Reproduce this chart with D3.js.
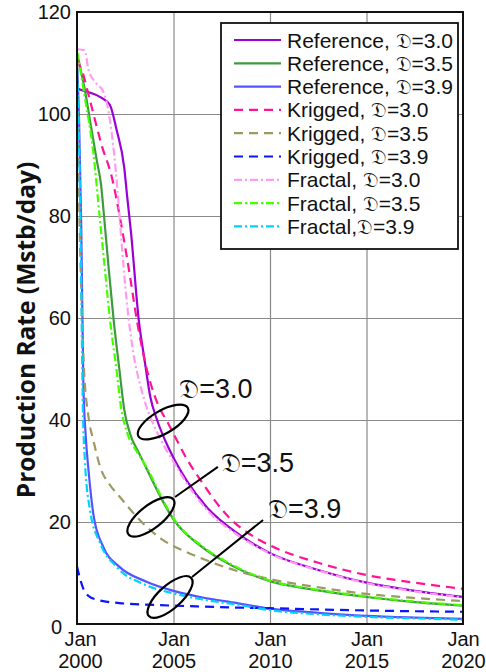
<!DOCTYPE html>
<html>
<head>
<meta charset="utf-8">
<script src="https://cdn.jsdelivr.net/npm/d3@7"></script>
<style>
body { margin: 0; background: #fff; }
svg { display: block; font-family: "Liberation Sans", Arial, sans-serif; }
.grid line { stroke: #8a8a8a; stroke-width: 1.2; }
.grid .domain { display: none; }
.series { fill: none; }
</style>
</head>
<body>
<svg width="486" height="672"></svg>
<script>
// tick labels
var xTickYears = [2000, 2005, 2010, 2015, 2020];
var xTickMonth = ["Jan", "Jan", "Jan", "Jan", "Jan"];
var yTicks = [0, 20, 40, 60, 80, 100, 120];

// [decimal year, Mstb/day]
var ref30 = [[2000,105],[2000.5,104.4],[2001.3,103.1],[2001.7,101.8],[2002.05,96.9],[2002.45,89.4],[2002.6,83.8],[2002.8,76.7],[2003.2,59.6],[2003.5,51.8],[2003.8,44.5],[2004.15,40],[2004.8,34.1],[2005.7,28],[2006.7,23],[2008.3,17.8],[2010,13.9],[2012.5,10.6],[2015,8.1],[2017.5,6.5],[2020,5.3]];
var ref35 = [[2000,112],[2000.2,108.5],[2000.41,104.7],[2000.67,98.8],[2001.02,91],[2001.25,86],[2001.4,80],[2001.65,69.4],[2001.9,59.6],[2002.2,49.8],[2002.45,42],[2002.75,37.3],[2003.2,33.6],[2003.6,30.5],[2004.5,23.7],[2005,20.5],[2006.4,15.3],[2008,11.5],[2010,8.4],[2012.5,6.6],[2015,5.3],[2017.5,4.3],[2020,3.6]];
var ref39 = [[2000,110],[2000.1,100],[2000.22,78],[2000.33,47],[2000.45,37],[2000.6,30],[2000.85,21.5],[2001.35,15.2],[2002.2,11.2],[2003.6,8.3],[2005,6.5],[2006.5,5.2],[2008.3,4.1],[2010,3],[2012.5,2.2],[2015,1.6],[2017.5,1.25],[2020,1.0]];
var krig30 = [[2000,110.6],[2000.3,108],[2000.67,102.7],[2001.3,93.6],[2001.8,87.7],[2002.25,79.2],[2002.75,68.1],[2003.1,59.6],[2003.5,51.8],[2004.2,43],[2004.7,39.5],[2005,37.3],[2005.7,32.3],[2006.4,28.2],[2007.9,20.8],[2009.3,16.8],[2010,15.4],[2012.5,12],[2015,9.6],[2017.5,8.1],[2020,6.9]];
var krig35 = [[2000,112],[2000.1,85],[2000.2,68],[2000.35,51],[2000.6,40.5],[2000.85,36],[2001.2,30.8],[2001.7,27.3],[2002.2,25],[2003.35,20],[2004.4,16.6],[2005.5,14.4],[2006.5,12.8],[2008.3,10.4],[2010,8.8],[2012.5,7.2],[2015,5.9],[2017.5,5.1],[2020,4.5]];
var krig39 = [[2000,11.3],[2000.15,9],[2000.33,6.9],[2000.6,5.5],[2001,4.8],[2002.2,4.1],[2004,3.75],[2006.2,3.45],[2008.5,3.2],[2010,3.1],[2012.5,2.85],[2015,2.65],[2017.5,2.5],[2020,2.4]];
var frac30 = [[2000,112.7],[2000.4,112.5],[2000.6,108.6],[2001,106],[2001.36,104.4],[2001.7,99],[2001.9,93],[2002.1,85],[2002.3,75.3],[2002.57,63.5],[2002.92,53.1],[2003.3,46.5],[2003.7,41.5],[2004,38.8],[2004.5,35],[2005,31.8],[2005.7,27.5],[2006.7,22.5],[2008.3,17.5],[2010,13.8],[2012.5,10.5],[2015,8],[2017.5,6.4],[2020,5.2]];
var frac35 = [[2000,112.2],[2000.2,108],[2000.4,103.4],[2000.85,92.3],[2001.19,79.2],[2001.45,69.4],[2001.71,59.6],[2002.05,49.8],[2002.3,42],[2002.6,37.5],[2003.1,33.8],[2003.6,30.8],[2004.5,24],[2005,20.7],[2006.4,15.5],[2008,11.7],[2010,8.5],[2012.5,6.7],[2015,5.4],[2017.5,4.4],[2020,3.7]];
var frac39 = [[2000,109],[2000.1,96],[2000.2,72],[2000.3,43],[2000.41,32],[2000.67,22.4],[2001.2,15.8],[2002.05,11.2],[2003.6,7.6],[2005,6],[2006.5,4.8],[2008.3,3.8],[2010,2.7],[2012.5,1.9],[2015,1.4],[2017.5,1.1],[2020,0.85]];

var seriesNames = ["Reference, \u{1D507}=3.0", "Reference, \u{1D507}=3.5", "Reference, \u{1D507}=3.9",
                   "Krigged, \u{1D507}=3.0", "Krigged, \u{1D507}=3.5", "Krigged, \u{1D507}=3.9",
                   "Fractal, \u{1D507}=3.0", "Fractal, \u{1D507}=3.5", "Fractal,\u{1D507}=3.9"];
var seriesData = [ref30, ref35, ref39, krig30, krig35, krig39, frac30, frac35, frac39];
var colors = ["#9a00d8", "#3f9a3f", "#5454ff", "#ff1493", "#9c9a62", "#0a14ff", "#ff9cf0", "#44ff00", "#00d2ff"];
var dashes = [null, null, null, "9,6", "9,6", "9,6", "8,3,2,3", "8,3,2,3", "8,3,2,3"];

var svg = d3.select("svg"),
    margin = {top: 12, right: 23, bottom: 48, left: 77},
    width = +svg.attr("width") - margin.left - margin.right,
    height = +svg.attr("height") - margin.top - margin.bottom;

var x = d3.scaleLinear().domain([2000, 2020]).range([0, width]),
    y = d3.scaleLinear().domain([0, 120]).range([height, 0]);

var g = svg.append("g")
    .attr("transform", "translate(" + margin.left + "," + margin.top + ")");

// grid
g.append("g").attr("class", "grid")
    .attr("transform", "translate(0," + height + ")")
    .call(d3.axisBottom(x).tickValues(xTickYears.slice(1, -1)).tickSize(-height).tickFormat(""));
g.append("g").attr("class", "grid")
    .call(d3.axisLeft(y).tickValues(yTicks.slice(1, -1)).tickSize(-width).tickFormat(""));

// x axis labels
var xAxis = g.append("g")
    .attr("transform", "translate(0," + height + ")")
    .call(d3.axisBottom(x).tickValues(xTickYears).tickSize(0).tickFormat(function(){ return ""; }));
xAxis.select(".domain").remove();
xAxis.selectAll(".tick text").each(function(d, i) {
  var dx = i === 0 ? 3 : 0;
  var t = d3.select(this).attr("y", 22).attr("dy", null)
      .attr("font-size", 20).attr("fill", "#111").attr("font-family", "Liberation Sans, Arial, sans-serif");
  t.append("tspan").attr("x", dx).text(xTickMonth[i]);
  t.append("tspan").attr("x", dx).attr("dy", 22).text(d);
});

// y axis labels
var yAxis = g.append("g")
    .call(d3.axisLeft(y).tickValues(yTicks).tickSize(0).tickPadding(6));
yAxis.select(".domain").remove();
yAxis.selectAll(".tick text")
    .attr("font-size", 20).attr("fill", "#111").attr("font-family", "Liberation Sans, Arial, sans-serif");
yAxis.selectAll(".tick text").filter(function(d){ return d === 0; })
    .attr("x", -15).attr("dy", "0.45em");

svg.append("text")
    .attr("transform", "translate(35," + (margin.top + height / 2 + 12) + ") rotate(-90)")
    .attr("text-anchor", "middle")
    .attr("font-family", "Open Sans, sans-serif")
    .attr("font-weight", "bold")
    .attr("font-size", 24.5)
    .attr("fill", "#111")
    .text("Production Rate (Mstb/day)");

// lines
g.append("clipPath").attr("id", "clip")
  .append("rect").attr("width", width).attr("height", height);

var line = d3.line()
    .curve(d3.curveMonotoneX)
    .x(function(d){ return x(d[0]); })
    .y(function(d){ return y(d[1]); });

g.append("g").attr("clip-path", "url(#clip)")
  .selectAll(".series").data(seriesData).enter().append("path")
    .attr("class", "series")
    .attr("d", line)
    .attr("stroke", function(d, i){ return colors[i]; })
    .attr("stroke-width", 2.2)
    .attr("stroke-dasharray", function(d, i){ return dashes[i]; });

// frame
g.append("rect")
    .attr("width", width).attr("height", height)
    .attr("fill", "none").attr("stroke", "#111").attr("stroke-width", 2);

// annotations: ellipse centre and label anchors in data units
var notes = [
  {label: "\u{1D507}=3.0", cx: 2004.46, cv: 39.6, rot: -30, lx: 2005.3, lv: 44.3, from: null},
  {label: "\u{1D507}=3.5", cx: 2003.83, cv: 21, rot: -38, lx: 2007.45, lv: 29.8, from: [2005.08, 24.9, 2007.3, 30.8]},
  {label: "\u{1D507}=3.9", cx: 2004.82, cv: 5.3, rot: -42, lx: 2009.9, lv: 20.8, from: [2005.96, 9.2, 2009.64, 20.4]}
];
var ann = g.append("g");
notes.forEach(function(n) {
  ann.append("ellipse")
      .attr("transform", "translate(" + x(n.cx) + "," + y(n.cv) + ") rotate(" + n.rot + ")")
      .attr("rx", 28.5).attr("ry", 11.5)
      .attr("fill", "none").attr("stroke", "#000").attr("stroke-width", 2.2);
  if (n.from) {
    ann.append("line")
        .attr("x1", x(n.from[0])).attr("y1", y(n.from[1]))
        .attr("x2", x(n.from[2])).attr("y2", y(n.from[3]))
        .attr("stroke", "#000").attr("stroke-width", 2);
  }
  ann.append("text")
      .attr("x", x(n.lx)).attr("y", y(n.lv))
      .attr("font-size", 27).attr("fill", "#111")
      .text(n.label);
});

// legend
var legend = svg.append("g").attr("transform", "translate(221,23)");
legend.append("rect")
    .attr("width", 237).attr("height", 226)
    .attr("fill", "#fff").attr("stroke", "#111").attr("stroke-width", 1.8);
var rows = legend.selectAll(".row").data(seriesNames).enter().append("g")
    .attr("transform", function(d, i){ return "translate(0," + (17 + i * 23.3) + ")"; });
rows.append("line")
    .attr("x1", 13).attr("x2", 60)
    .attr("stroke", function(d, i){ return colors[i]; })
    .attr("stroke-width", 2.2)
    .attr("stroke-dasharray", function(d, i){ return dashes[i]; });
rows.append("text")
    .attr("x", 66).attr("dy", "0.36em")
    .attr("font-size", 21).attr("fill", "#111")
    .text(function(d){ return d; });
</script>
</body>
</html>
